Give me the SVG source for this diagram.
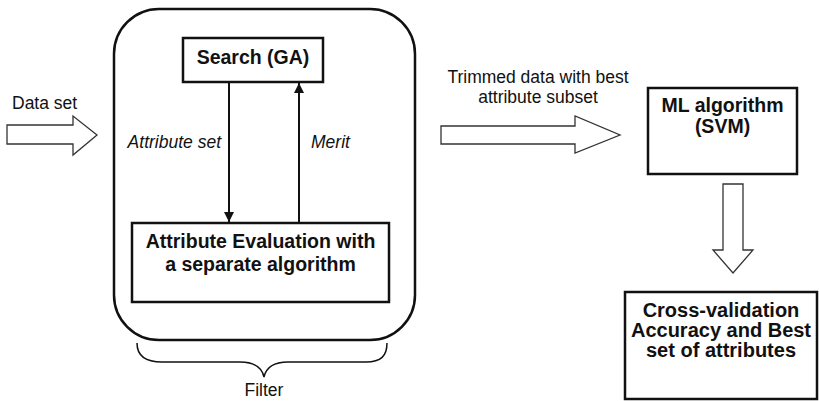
<svg xmlns="http://www.w3.org/2000/svg" width="819" height="401" viewBox="0 0 819 401">
  <style>
    .box { fill: #fff; stroke: #111; stroke-width: 2.5; }
    .block { fill: #fff; stroke: #333; stroke-width: 1.3; stroke-linejoin: miter; }
    .edge { fill: none; stroke: #111; stroke-width: 2; }
    .bold { font-family: "Liberation Sans", Arial, sans-serif; font-weight: bold; font-size: 19.5px; fill: #111; text-anchor: middle; }
    .plain { font-family: "Liberation Sans", Arial, sans-serif; font-size: 17.5px; fill: #111; }
    .ital { font-family: "Liberation Sans", Arial, sans-serif; font-style: italic; font-size: 17.5px; fill: #111; }
  </style>
  <defs>
    <marker id="head" viewBox="0 0 10 10" refX="10" refY="5" markerWidth="5" markerHeight="5" orient="auto" markerUnits="strokeWidth">
      <path d="M0,0 L10,5 L0,10 Z" fill="#111"/>
    </marker>
  </defs>

  <rect width="819" height="401" fill="#fff"/>

  <!-- filter container with its brace and caption -->
  <g id="filter">
    <rect class="box" x="114" y="9" width="301" height="331" rx="45" ry="45"/>
    <path d="M137,343 C137,356 145,362 162,362 L240,362 C255,362 262,368 264,377 C266,368 273,362 288,362 L366,362 C381,362 387,356 387,343" fill="none" stroke="#111" stroke-width="1.5"/>
    <text class="plain" x="264" y="396" text-anchor="middle">Filter</text>
  </g>

  <g id="search">
    <rect class="box" x="183" y="38" width="140" height="44"/>
    <text class="bold" x="253" y="64">Search (GA)</text>
  </g>

  <g id="evaluation">
    <rect class="box" x="132" y="223" width="257" height="79"/>
    <text class="bold" x="260.5" y="248">Attribute Evaluation with</text>
    <text class="bold" x="260.5" y="271">a separate algorithm</text>
  </g>

  <g id="ml">
    <rect class="box" x="648" y="88" width="149" height="86"/>
    <text class="bold" x="722.5" y="112">ML algorithm</text>
    <text class="bold" x="722.5" y="133">(SVM)</text>
  </g>

  <g id="result">
    <rect class="box" x="625" y="292" width="192" height="107"/>
    <text class="bold" x="721" y="317" style="font-size:20px">Cross-validation</text>
    <text class="bold" x="721" y="337" style="font-size:20px">Accuracy and Best</text>
    <text class="bold" x="721" y="357" style="font-size:20px">set of attributes</text>
  </g>

  <g id="connectors">
    <!-- block arrows for data flow -->
    <polygon class="block" points="7,125 73,125 73,116 97,135 73,155 73,144 7,144"/>
    <text class="plain" x="12" y="109">Data set</text>

    <polygon class="block" points="441,126 575,126 575,116 620,135 575,153 575,144 441,144"/>
    <text class="plain" x="538" y="83" text-anchor="middle">Trimmed data with best</text>
    <text class="plain" x="538" y="103" text-anchor="middle">attribute subset</text>

    <polygon class="block" points="723,184 743,184 743,250 753,250 733,273 713,250 723,250"/>

    <!-- search / evaluation loop -->
    <line class="edge" x1="229" y1="82" x2="229" y2="222" marker-end="url(#head)"/>
    <text class="ital" x="221" y="148" text-anchor="end">Attribute set</text>
    <line class="edge" x1="299" y1="223" x2="299" y2="83" marker-end="url(#head)"/>
    <text class="ital" x="311" y="148">Merit</text>
  </g>
</svg>
